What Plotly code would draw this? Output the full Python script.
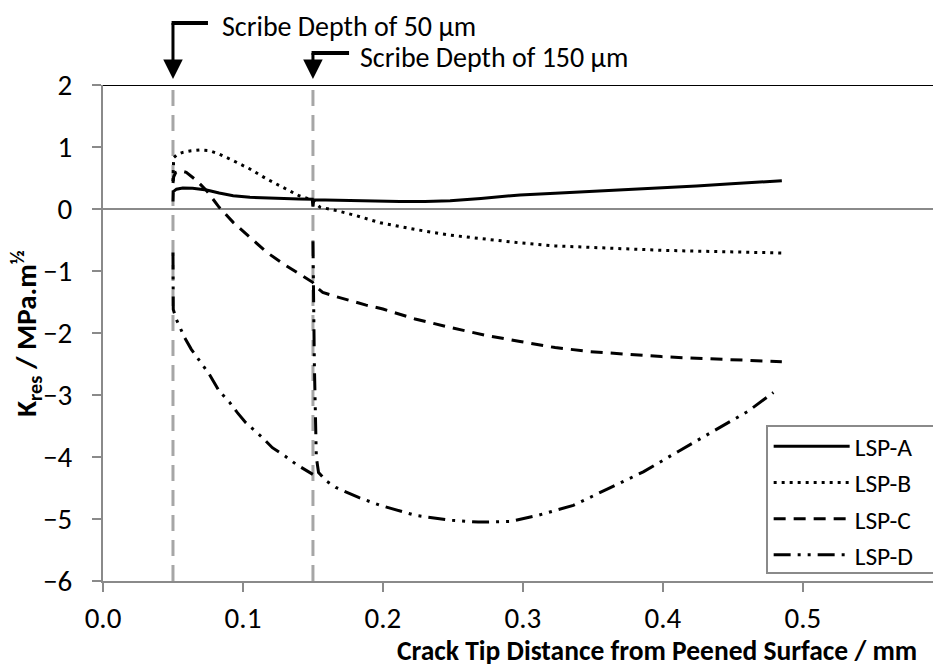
import plotly.graph_objects as go

FONT = "Carlito, Lato, sans-serif"

# ---- data -------------------------------------------------------------
a_x = [0.0500, 0.0502, 0.0525, 0.057, 0.064, 0.074, 0.083, 0.093, 0.105, 0.117, 0.129, 0.140,
       0.1495, 0.1500, 0.1505, 0.155, 0.164, 0.180, 0.200, 0.212, 0.230, 0.248, 0.270, 0.298,
       0.323, 0.348, 0.373, 0.399, 0.424, 0.449, 0.467, 0.485]
a_y = [0.12, 0.28, 0.32, 0.34, 0.333, 0.306, 0.258, 0.215, 0.188, 0.175, 0.167, 0.160,
       0.156, 0.04, 0.15, 0.148, 0.14, 0.128, 0.12, 0.12, 0.122, 0.135, 0.17, 0.227,
       0.255, 0.281, 0.308, 0.335, 0.37, 0.406, 0.43, 0.455]

b_x = [0.0500, 0.0505, 0.053, 0.057, 0.063, 0.069, 0.076, 0.083, 0.093, 0.105, 0.117, 0.129,
       0.140, 0.1495, 0.155, 0.167, 0.181, 0.198, 0.223, 0.248, 0.273, 0.298, 0.323, 0.348,
       0.373, 0.399, 0.424, 0.449, 0.467, 0.485]
b_y = [0.45, 0.83, 0.88, 0.914, 0.94, 0.952, 0.941, 0.887, 0.78, 0.645, 0.484, 0.35,
       0.215, 0.145, 0.03, -0.027, -0.108, -0.222, -0.33, -0.422, -0.487, -0.547, -0.595, -0.622,
       -0.645, -0.666, -0.68, -0.693, -0.70, -0.709]

c_x = [0.0500, 0.0505, 0.052, 0.055, 0.0595, 0.067, 0.074, 0.083, 0.093, 0.105, 0.117, 0.129,
       0.140, 0.1498, 0.154, 0.157, 0.166, 0.176, 0.188, 0.200, 0.223, 0.248, 0.273, 0.298,
       0.323, 0.348, 0.373, 0.399, 0.424, 0.449, 0.467, 0.485]
c_y = [0.42, 0.52, 0.59, 0.618, 0.591, 0.457, 0.296, 0.027, -0.215, -0.457, -0.699, -0.887,
       -1.048, -1.183, -1.29, -1.344, -1.41, -1.478, -1.55, -1.613, -1.775, -1.91, -2.035, -2.137,
       -2.235, -2.30, -2.343, -2.381, -2.408, -2.435, -2.45, -2.462]

d_x = [0.0500, 0.0501, 0.0502, 0.0524, 0.0583, 0.063, 0.069, 0.076, 0.083, 0.0905, 0.096, 0.102,
       0.114, 0.121, 0.130, 0.138, 0.1499, None, 0.1500, 0.1510, 0.1524, 0.154, 0.1595, 0.1667,
       0.183, 0.198, 0.223, 0.248, 0.268, 0.291, 0.311, 0.336, 0.361, 0.386, 0.411, 0.436,
       0.461, 0.479]
d_y = [-0.70, -1.55, -1.62, -1.78, -2.075, -2.26, -2.45, -2.667, -2.935, -3.12, -3.285, -3.446,
       -3.688, -3.85, -3.984, -4.118, -4.28, None, -0.52, -2.5, -4.0, -4.25, -4.387, -4.495,
       -4.656, -4.78, -4.94, -5.02, -5.05, -5.04, -4.94, -4.78, -4.51, -4.24, -3.91, -3.59,
       -3.26, -2.96]

series_names = ["LSP-A", "LSP-B", "LSP-C", "LSP-D"]
series_x = [a_x, b_x, c_x, d_x]
series_y = [a_y, b_y, c_y, d_y]
series_dash = ["solid", "3px,5px", "12px,8px", "17px,7px,3px,7px,3px,7px"]

scribe_depths = [0.05, 0.15]
scribe_labels = ["Scribe Depth of 50 µm", "Scribe Depth of 150 µm"]

x_ticks = [0.0, 0.1, 0.2, 0.3, 0.4, 0.5]
x_ticklabels = ["0.0", "0.1", "0.2", "0.3", "0.4", "0.5"]
y_ticks = [2, 1, 0, -1, -2, -3, -4, -5, -6]

FS = 29

# ---- figure -----------------------------------------------------------
fig = go.Figure()
for n, xs, ys, ds in zip(series_names, series_x, series_y, series_dash):
    fig.add_trace(go.Scatter(x=xs, y=ys, mode="lines", name=n,
                             line=dict(color="black", width=3, dash=ds)))

GREY = "#8a8a8a"
for xv in scribe_depths:
    fig.add_shape(type="line", xref="x", yref="paper", x0=xv, x1=xv, y0=0, y1=1,
                  line=dict(color="#a6a6a6", width=3, dash="16px,9px"), layer="below")

fig.add_shape(type="line", xref="paper", yref="y", x0=0, x1=1, y0=2, y1=2,
              line=dict(color="black", width=2))

# legend frame (runs off the right edge, as in the cropped original)
fig.add_shape(type="rect", xref="paper", yref="paper", x0=0.8, x1=1.03, y0=0.016, y1=0.3125,
              line=dict(color=GREY, width=2), fillcolor="white", layer="above")

PLOT_H = 496
arrow_tip = 1.012
arrow_top = [1.125, 1.0645]
label_y = [1.117, 1.056]
bar_len = [0.025, 0.0258]
label_dx = [0.0336, 0.032]
for xv, lab, yt, ly, bl, dx in zip(scribe_depths, scribe_labels, arrow_top, label_y, bar_len, label_dx):
    fig.add_annotation(x=xv, y=arrow_tip, xref="x", yref="paper", text="", showarrow=True,
                       axref="pixel", ayref="pixel", ax=0, ay=-(yt - arrow_tip) * PLOT_H - 1.5,
                       arrowhead=2, arrowsize=1.3, arrowwidth=3, arrowcolor="black")
    fig.add_shape(type="line", xref="x", yref="paper", x0=xv - 0.001, x1=xv + bl, y0=yt, y1=yt,
                  line=dict(color="black", width=4))
    fig.add_annotation(x=xv + dx, y=ly, xref="x", yref="paper", text=lab, showarrow=False,
                       xanchor="left", yanchor="middle",
                       font=dict(family=FONT, size=28, color="black"))

fig.add_annotation(x=-0.093, y=0.5, xref="paper", yref="paper", textangle=-90,
                   text="<b>K<sub>res</sub> / MPa.m<sup>½</sup></b>", showarrow=False,
                   xanchor="center", yanchor="middle",
                   font=dict(family=FONT, size=FS, color="black"))
fig.add_annotation(x=0.396, y=-0.141, xref="x", yref="paper",
                   text="<b>Crack Tip Distance from Peened Surface / mm</b>", showarrow=False,
                   xanchor="center", yanchor="middle",
                   font=dict(family=FONT, size=27.5, color="black"))

fig.update_layout(
    width=933, height=666, autosize=False,
    margin=dict(l=103, r=0, t=85, b=85),
    paper_bgcolor="white", plot_bgcolor="white",
    font=dict(family=FONT, size=FS, color="black"),
    showlegend=True,
    legend=dict(x=0.802, y=0.318, xanchor="left", yanchor="top",
                bgcolor="rgba(0,0,0,0)", borderwidth=0,
                font=dict(family=FONT, size=25.5, color="black"),
                itemwidth=76, tracegroupgap=0),
    xaxis=dict(range=[0, 0.593], tickvals=x_ticks, ticktext=x_ticklabels,
               showline=True, linecolor=GREY, linewidth=2,
               ticks="outside", ticklen=9, tickwidth=2, tickcolor=GREY,
               showgrid=False, zeroline=False, ticklabelstandoff=1,
               tickfont=dict(family=FONT, size=FS, color="black")),
    yaxis=dict(range=[-6, 2], tickvals=y_ticks,
               showline=True, linecolor=GREY, linewidth=2,
               ticks="outside", ticklen=9, tickwidth=2, tickcolor=GREY,
               showgrid=False, zeroline=True, zerolinecolor=GREY, zerolinewidth=2,
               ticklabelstandoff=14,
               tickfont=dict(family=FONT, size=FS, color="black")),
)

fig.write_html("out.html")
